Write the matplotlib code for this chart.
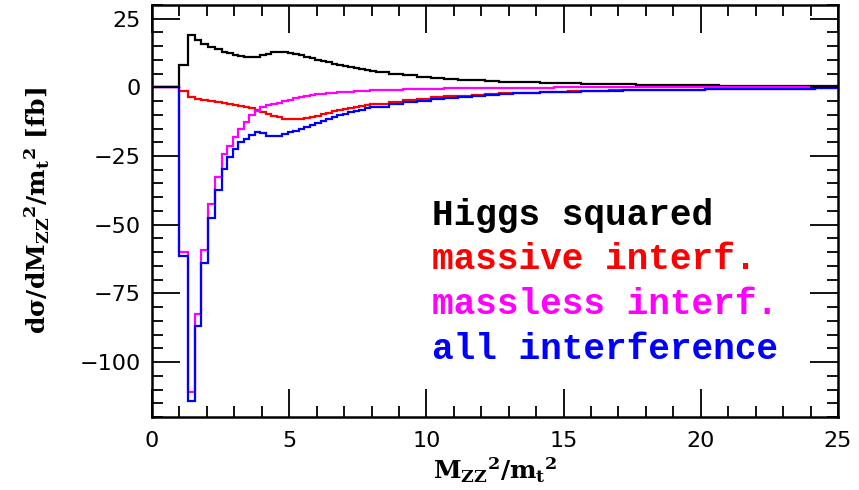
import numpy as np
import matplotlib
matplotlib.use("Agg")
import matplotlib.pyplot as plt
from matplotlib.ticker import MultipleLocator

# bin edges in M_ZZ^2/m_t^2 (narrow bins near threshold, wider in the tail)
edges_low = [0.0, 1.0, 1.3, 1.55, 1.8, 2.05, 2.3, 2.55, 2.75, 2.95, 3.15, 3.35, 3.55, 3.75, 3.95]
edges_mid = 3.95 + 0.2 * np.arange(1, 22)
edges_tail = 8.15 + 0.5 * np.arange(1, 35)
edges = np.concatenate([edges_low, edges_mid, edges_tail])

# d sigma / d(M_ZZ^2/m_t^2) [fb], one value per bin
higgs_sq = [
    0, 8.2, 19.0, 17.2, 15.9, 14.8, 13.8, 13.0, 12.4, 11.9, 11.4, 11.1, 11.0, 11.2,
    11.7, 12.3, 12.7, 12.9, 12.8, 12.5, 12.1, 11.6, 11.1, 10.6, 10.1, 9.6, 9.1, 8.6,
    8.2, 7.8, 7.4, 7.0, 6.7, 6.4, 6.1,
    5.7, 5.0, 4.4, 3.9, 3.4, 3.05, 2.75, 2.5, 2.3, 2.1, 1.95, 1.8, 1.65, 1.5, 1.4,
    1.3, 1.2, 1.1, 1.05, 1.0, 0.9, 0.85, 0.8, 0.75, 0.7, 0.65, 0.6, 0.55, 0.5, 0.45,
    0.4, 0.38, 0.35, 0.3,
]
massive = [
    0, -1.5, -3.5, -4.1, -4.5, -4.9, -5.3, -5.6, -5.9, -6.3, -6.7, -7.1, -7.6, -8.2,
    -8.9, -9.6, -10.3, -10.9, -11.4, -11.7, -11.7, -11.5, -11.2, -10.8, -10.3, -9.8,
    -9.3, -8.8, -8.3, -7.9, -7.5, -7.1, -6.7, -6.4, -6.1,
    -5.9, -5.2, -4.6, -4.1, -3.7, -3.3, -3.0, -2.7, -2.45, -2.25, -2.05, -1.9, -1.75,
    -1.6, -1.45, -1.35, -1.25, -1.15, -1.05, -1.0, -0.95, -0.9, -0.85, -0.8, -0.75,
    -0.7, -0.65, -0.6, -0.55, -0.52, -0.48, -0.45, -0.42, -0.4,
]
massless = [
    0, -60.0, -111.0, -82.4, -59.2, -42.6, -32.5, -24.3, -21.2, -18.1, -15.1, -12.6,
    -10.2, -8.6,
    -7.3, -6.6, -6.1, -5.6, -5.0, -4.5, -4.0, -3.5, -3.1, -2.8, -2.5, -2.3, -2.1, -2.0,
    -1.85, -1.7, -1.6, -1.5, -1.35, -1.25, -1.15,
    -1.05, -0.85, -0.7, -0.6, -0.5, -0.42, -0.35, -0.28, -0.22, -0.17, -0.13, -0.1,
    -0.08, -0.06, -0.05, -0.04, -0.03, -0.02, -0.02, -0.01, -0.01, -0.01, 0, 0, 0, 0,
    0, 0, 0, 0, 0, 0, 0, 0,
]
all_interf = [
    0, -61.5, -114.3, -86.8, -64.0, -47.4, -37.5, -29.8, -25.5, -22.4, -20.0, -18.8,
    -17.3, -16.4,
    -16.8, -17.6, -17.9, -17.6, -17.0, -16.4, -15.8, -15.1, -14.4, -13.7, -12.9, -12.2,
    -11.5, -10.8, -10.2, -9.6, -9.1, -8.6, -8.1, -7.7, -7.3,
    -7.0, -6.1, -5.4, -4.8, -4.3, -3.8, -3.4, -3.0, -2.7, -2.45, -2.2, -2.0, -1.85,
    -1.7, -1.55, -1.4, -1.3, -1.18, -1.08, -1.02, -0.96, -0.91, -0.86, -0.8, -0.75,
    -0.7, -0.65, -0.6, -0.55, -0.52, -0.48, -0.45, -0.42, -0.4,
]

labels = ["Higgs squared", "massive interf.", "massless interf.", "all interference"]
colors = ["black", "#ff0000", "#ff00ff", "#0000ff"]
series = [higgs_sq, massive, massless, all_interf]

plt.rcParams["mathtext.fontset"] = "dejavuserif"

fig = plt.figure(figsize=(8.59, 4.90), dpi=100)
ax = fig.add_axes([0.177, 0.149, 0.7985, 0.841])

for vals, col in zip(series, colors):
    ax.stairs(vals, edges, color=col, lw=1.6, baseline=None)

ax.set_xlim(0, 25)
ax.set_ylim(-120, 30)
ax.xaxis.set_major_locator(MultipleLocator(5))
ax.xaxis.set_minor_locator(MultipleLocator(1))
ax.yaxis.set_major_locator(MultipleLocator(25))
ax.yaxis.set_minor_locator(MultipleLocator(5))
ax.tick_params(which="both", direction="in", top=True, right=True, width=1.3)
ax.tick_params(which="major", length=20, labelsize=16)
ax.tick_params(axis="x", which="major", pad=10)
ax.tick_params(axis="y", which="major", pad=8)
ax.tick_params(which="minor", length=8)
for sp in ax.spines.values():
    sp.set_linewidth(1.8)
ax.yaxis.set_major_formatter(lambda v, p: f"{int(v)}".replace("-", "\u2212"))

ax.set_xlabel(r"$\mathbf{M_{ZZ}}{}^{\mathbf{2}}\mathbf{/m_t}{}^{\mathbf{2}}$", fontsize=18, labelpad=3)
ax.set_ylabel(r"$\mathbf{d\sigma/dM_{ZZ}}{}^{\mathbf{2}}\mathbf{/m_t}{}^{\mathbf{2}}$ [fb]",
              fontsize=18, fontfamily="DejaVu Serif", fontweight="bold", labelpad=20)

for i, (lab, col) in enumerate(zip(labels, colors)):
    ax.text(10.2, -50 - 16.3 * i, lab, color=col, fontsize=26, fontweight="bold",
            fontfamily="Liberation Mono", va="baseline", ha="left")

fig.savefig("out.png", dpi=100)
